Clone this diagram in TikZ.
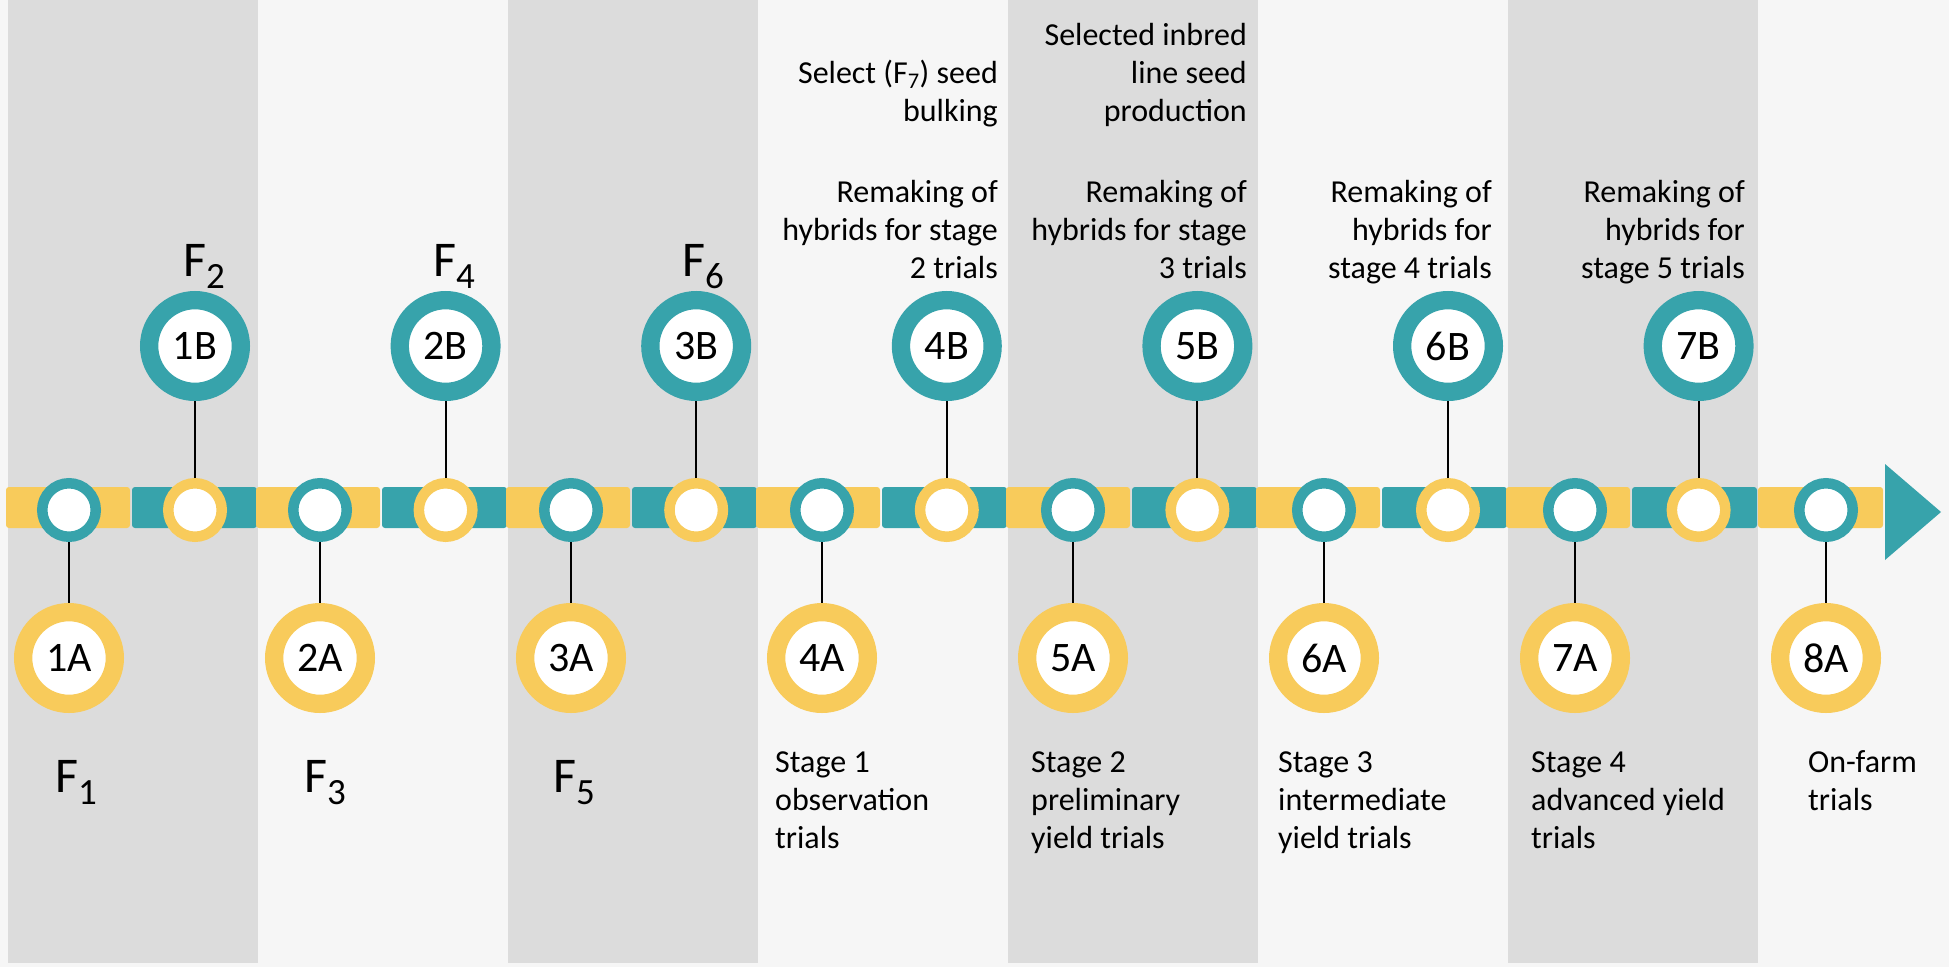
\documentclass[tikz,border=0pt]{standalone}
\usepackage{fontspec}
\setmainfont{Carlito}
\definecolor{tealc}{HTML}{37A3AB}
\definecolor{yellc}{HTML}{F8CB5B}
\definecolor{colgray}{HTML}{DCDCDC}
\definecolor{bgc}{HTML}{F6F6F6}
\newcommand{\tleft}[1]{\begin{tabular}[t]{@{}l@{}}#1\end{tabular}}
\newcommand{\tright}[1]{\begin{tabular}[t]{@{}r@{}}#1\end{tabular}}
\newcommand{\fsub}[1]{\raisebox{-12pt}{\fontsize{37}{37}\selectfont #1}}
\tikzset{
  ringA/.style={circle, fill=white, draw=tealc, line width=10.5pt, minimum size=53.5pt, inner sep=0pt},
  ringB/.style={circle, fill=white, draw=yellc, line width=10.5pt, minimum size=53.5pt, inner sep=0pt},
  bigA/.style={circle, fill=white, draw=yellc, line width=18.3pt, minimum size=91.7pt, inner sep=0pt, font=\fontsize{42}{42}\selectfont},
  bigB/.style={circle, fill=white, draw=tealc, line width=18.3pt, minimum size=91.7pt, inner sep=0pt, font=\fontsize{42}{42}\selectfont},
  conn/.style={draw=black, line width=2pt},
  flab/.style={anchor=base west, inner sep=0pt, font=\fontsize{50}{50}\selectfont},
  lowtxt/.style={anchor=base west, inner sep=0pt, font=\fontsize{32}{38}\selectfont},
  toptxt/.style={anchor=base east, inner sep=0pt, font=\fontsize{32}{38}\selectfont},
  segY/.style={fill=yellc, rounded corners=3pt},
  segT/.style={fill=tealc, rounded corners=3pt}
}
\begin{document}
\begin{tikzpicture}[x=1pt,y=-1pt]
\useasboundingbox (0,0) rectangle (1949,967);
\fill[bgc] (0,0) rectangle (1949,967);
% columns
\foreach \i in {0,2,4,6} {
  \fill[colgray] ({8+250*\i},0) rectangle ({258+250*\i},963);
}
% bar segments
\foreach \i in {0,...,6} {
  \fill[segY] ({8+250*\i-2},487) rectangle ({8+250*\i+122},528);
  \fill[segT] ({8+250*\i+124},487) rectangle ({8+250*\i+249},528);
}
\fill[segY] (1758,487) rectangle (1883,528);
% arrow head
\fill[tealc] (1885,464) -- (1941,512) -- (1885,560) -- cycle;
% A nodes
\foreach \i in {0,...,7} {
  \pgfmathtruncatemacro{\n}{\i+1}
  \node[ringA] (sA\i) at ({69+251*\i},510) {};
  \node[bigA] (bA\i) at ({69+251*\i},658) {\n A};
  \draw[conn] (sA\i) -- (bA\i);
}
% B nodes
\foreach \i in {0,...,6} {
  \pgfmathtruncatemacro{\n}{\i+1}
  \node[ringB] (sB\i) at ({195+250.6*\i},510) {};
  \node[bigB] (bB\i) at ({195+250.6*\i},346) {\n B};
  \draw[conn] (sB\i) -- (bB\i);
}
% generation labels
\node[flab] (f1) at (55,792) {F\fsub{1}};
\node[flab] (f3) at (304,792) {F\fsub{3}};
\node[flab] (f5) at (553,792) {F\fsub{5}};
\node[flab] (f2) at (183,276) {F\fsub{2}};
\node[flab] (f4) at (433,276) {F\fsub{4}};
\node[flab] (f6) at (682,276) {F\fsub{6}};
% bottom texts
\node[lowtxt] (t4a) at (775,772) {\tleft{Stage 1\\observation\\trials}};
\node[lowtxt] (t5a) at (1031,772) {\tleft{Stage 2\\preliminary\\yield trials}};
\node[lowtxt] (t6a) at (1278,772) {\tleft{Stage 3\\intermediate\\yield trials}};
\node[lowtxt] (t7a) at (1531,772) {\tleft{Stage 4\\advanced yield\\trials}};
\node[lowtxt] (t8a) at (1808,772) {\tleft{On-farm\\trials}};
% top texts
\node[toptxt] (s4b) at (998,83) {\tright{Select (F\textsubscript{7}) seed\\bulking}};
\node[toptxt] (s5b) at (1247,45) {\tright{Selected inbred\\line seed\\production}};
\node[toptxt] (r4b) at (998,202) {\tright{Remaking of\\hybrids for stage\\2 trials}};
\node[toptxt] (r5b) at (1247,202) {\tright{Remaking of\\hybrids for stage\\3 trials}};
\node[toptxt] (r6b) at (1492,202) {\tright{Remaking of\\hybrids for\\stage 4 trials}};
\node[toptxt] (r7b) at (1745,202) {\tright{Remaking of\\hybrids for\\stage 5 trials}};
\end{tikzpicture}
\end{document}
